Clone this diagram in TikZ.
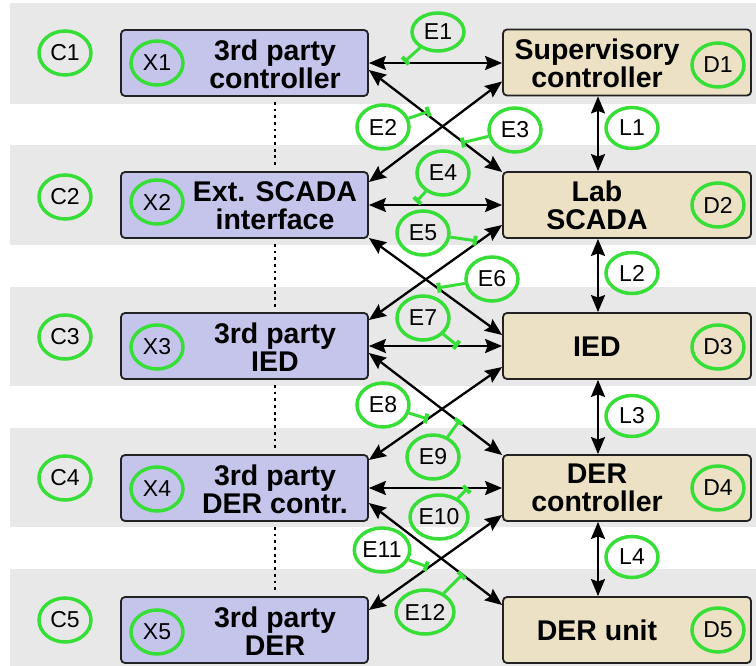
\documentclass[tikz,border=0pt]{standalone}
\usepackage{fontspec}
\setmainfont{Liberation Sans}
\usetikzlibrary{arrows.meta,shapes.geometric}
\definecolor{bandgray}{RGB}{232,232,232}
\definecolor{xfill}{RGB}{197,197,236}
\definecolor{dfill}{RGB}{236,225,197}
\definecolor{lgreen}{RGB}{55,222,55}
\definecolor{edgec}{RGB}{34,34,34}
\begin{document}
\begin{tikzpicture}[x=1pt,y=-1pt,
  band/.style={fill=bandgray,draw=none},
  xbox/.style={draw=edgec,line width=1.8pt,fill=xfill,rounded corners=4pt,minimum width=247pt,minimum height=66pt,inner sep=0pt},
  dbox/.style={draw=edgec,line width=1.8pt,fill=dfill,rounded corners=4pt,minimum width=248pt,minimum height=66pt,inner sep=0pt},
  btext/.style={font=\fontsize{28.5}{28}\selectfont\bfseries,align=center,inner sep=0pt},
  tag/.style={ellipse,draw=lgreen,line width=3.5pt,minimum width=52pt,minimum height=44pt,inner sep=0pt,font=\fontsize{23}{23}\selectfont},
  tip/.tip={Stealth[length=17pt,width=14pt,inset=2.5pt]},
  arr/.style={line width=2.3pt,tip-tip},
  ptr/.style={draw=lgreen,line width=3pt,-{Bar[width=10pt,line width=4pt]}},
  dotline/.style={line width=2.8pt,dash pattern=on 2.8pt off 3.9pt}]
\useasboundingbox (0,0) rectangle (756,666);
% bands
\fill[band] (10,3) rectangle (756,104);
\fill[band] (10,145) rectangle (756,245);
\fill[band] (10,287) rectangle (756,386);
\fill[band] (10,428) rectangle (756,527);
\fill[band] (10,569) rectangle (756,666);
% boxes
\node[xbox] (X1) at (244.5,63) {};
\node[xbox] (X2) at (244.5,205) {};
\node[xbox] (X3) at (244.5,346) {};
\node[xbox] (X4) at (244.5,488) {};
\node[xbox] (X5) at (244.5,630) {};
\node[dbox] (D1) at (627,62.5) {};
\node[dbox] (D2) at (627,205) {};
\node[dbox] (D3) at (627,346) {};
\node[dbox] (D4) at (627,488) {};
\node[dbox] (D5) at (627,630) {};
% box texts
\node[btext] (X1t) at (275,64) {3rd party\\controller};
\node[btext] (X2t) at (275,206) {Ext. SCADA\\interface};
\node[btext] (X3t) at (275,347) {3rd party\\IED};
\node[btext] (X4t) at (275,489) {3rd party\\DER contr.};
\node[btext] (X5t) at (275,631) {3rd party\\DER};
\node[btext] (D1t) at (597,63) {Supervisory\\controller};
\node[btext] (D2t) at (597,205) {Lab\\SCADA};
\node[btext] (D3t) at (597,346.5) {IED};
\node[btext] (D4t) at (597,488) {DER\\controller};
\node[btext] (D5t) at (597,630) {DER unit};
% dotted lines
\foreach \a/\b in {X1/X2,X2/X3,X3/X4,X4/X5}
  \draw[dotline] ([xshift=30.5pt,yshift=-5pt]\a.south) -- ([xshift=30.5pt,yshift=3pt]\b.north);
% L arrows
\foreach \a/\b in {D1/D2,D2/D3,D3/D4,D4/D5}
  \draw[arr] ([xshift=-29pt]\a.south) -- ([xshift=-29pt]\b.north);
% horizontal E arrows
\foreach \i in {1,2,3,4}
  \draw[arr] (X\i.east) -- (D\i.west |- X\i.east);
% cross arrows
\draw[arr] ([yshift=-7pt]X1.east) -- ([yshift=33pt]D2.west);
\draw[arr] ([yshift=-19pt]D1.west) -- ([yshift=23pt]X2.east);
\draw[arr] ([yshift=-33pt]X2.east) -- ([yshift=11pt]D3.west);
\draw[arr] ([yshift=-20pt]D2.west) -- ([yshift=26pt]X3.east);
\draw[arr] ([yshift=-7pt]X3.east) -- ([yshift=33pt]D4.west);
\draw[arr] ([yshift=-21pt]D3.west) -- ([yshift=28pt]X4.east);
\draw[arr] ([yshift=-15pt]X4.east) -- ([yshift=25pt]D5.west);
\draw[arr] ([yshift=-27pt]D4.west) -- ([yshift=20pt]X5.east);
% C, X, D tags
\foreach \i/\y in {1/53,2/197,3/337,4/478,5/620}
  \node[tag] (C\i) at (65,\y) {C\i};
\foreach \i/\y in {1/63,2/202,3/347,4/489,5/632}
  \node[tag] (XT\i) at (157,\y) {X\i};
\foreach \i/\y in {1/65,2/205,3/347,4/488,5/630}
  \node[tag] (DT\i) at (718,\y) {D\i};
% L tags
\node[tag,minimum height=41pt] (L1) at (632,128) {L1};
\node[tag,minimum height=41pt] (L2) at (632,273) {L2};
\node[tag,minimum height=41pt] (L3) at (632,416) {L3};
\node[tag,minimum height=41pt] (L4) at (632,557) {L4};
% E tags
\node[tag,minimum height=38pt] (E1) at (438,32) {E1};
\node[tag] (E2) at (383,127) {E2};
\node[tag] (E3) at (515,130) {E3};
\node[tag] (E4) at (443,173) {E4};
\node[tag] (E5) at (423,233) {E5};
\node[tag] (E6) at (492,279) {E6};
\node[tag] (E7) at (423,318) {E7};
\node[tag] (E8) at (383,405) {E8};
\node[tag] (E9) at (433,457) {E9};
\node[tag] (E10) at (439,517) {E10};
\node[tag] (E11) at (382,550) {E11};
\node[tag] (E12) at (425,612) {E12};
% pointer targets
\coordinate (e1) at (404,62);
\coordinate (e2) at (430,111);
\coordinate (e3) at (461,143);
\coordinate (e4) at (416,202);
\coordinate (e5) at (477,241);
\coordinate (e6) at (437,288);
\coordinate (e7) at (458,346);
\coordinate (e8) at (428,419);
\coordinate (e9) at (460,420);
\coordinate (e10) at (468,488);
\coordinate (e11) at (428,567);
\coordinate (e12) at (463,574);
\foreach \i in {1,...,12}
  \draw[ptr] (E\i) -- (e\i);
\end{tikzpicture}
\end{document}
